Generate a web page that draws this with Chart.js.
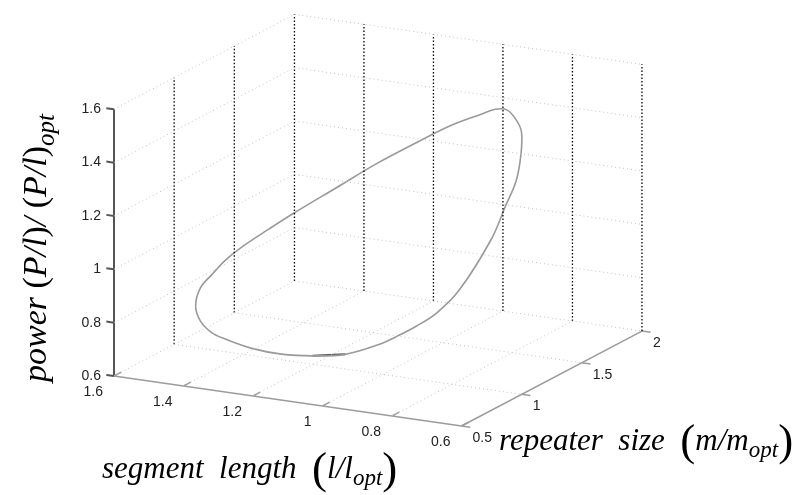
<!DOCTYPE html>
<html>
<head>
<meta charset="utf-8">
<script src="https://cdn.jsdelivr.net/npm/chart.js@4.4.0/dist/chart.umd.min.js"></script>
<style>
  html, body { margin: 0; padding: 0; background: #fff; }
  canvas { display: block; }
</style>
</head>
<body>
<canvas id="chart" width="798" height="495"></canvas>
<script>
// tick values of the three axes
const lTicks = [1.6, 1.4, 1.2, 1, 0.8, 0.6];
const mTicks = [0.5, 1, 1.5, 2];
const pTicks = [0.6, 0.8, 1, 1.2, 1.4, 1.6];

// the loop (l/lopt, m/mopt, (P/l)/(P/l)opt)
const segLength = [1.283, 1.188, 1.093, 0.997, 0.901, 0.853, 0.804, 0.755, 0.706, 0.676, 0.655, 0.646, 0.652, 0.698, 0.745, 0.793, 0.840, 0.888, 0.984, 1.080, 1.176, 1.272, 1.369, 1.417, 1.466, 1.515, 1.524, 1.517, 1.499, 1.471, 1.424, 1.377, 1.283];
const repSize = [1.433, 1.500, 1.543, 1.558, 1.539, 1.512, 1.470, 1.405, 1.305, 1.213, 1.113, 1.000, 0.898, 0.766, 0.712, 0.681, 0.661, 0.650, 0.642, 0.648, 0.667, 0.698, 0.747, 0.783, 0.833, 0.933, 1.000, 1.072, 1.137, 1.200, 1.278, 1.339, 1.433];
const power = [1.144, 1.238, 1.321, 1.401, 1.467, 1.500, 1.516, 1.502, 1.491, 1.432, 1.363, 1.299, 1.196, 1.029, 0.946, 0.895, 0.854, 0.817, 0.763, 0.738, 0.722, 0.718, 0.725, 0.730, 0.751, 0.777, 0.827, 0.859, 0.903, 0.945, 0.999, 1.050, 1.144];

// view of the 3d box: where the front corner lands, and the step of one unit along each axis
const view = { ox: 114, oy: 376, lx: -347.5, ly: -50, mx: 120.3, my: -63.3, pz: -266.7 };

const lMax = lTicks[0], lMin = lTicks[lTicks.length - 1];
const mMin = mTicks[0], mMax = mTicks[mTicks.length - 1];
const pMin = pTicks[0], pMax = pTicks[pTicks.length - 1];

function project(l, m, p) {
    return {
        x: view.ox + (l - lMax) * view.lx + (m - mMin) * view.mx,
        y: view.oy + (l - lMax) * view.ly + (m - mMin) * view.my + (p - pMin) * view.pz
    };
}

const lightGrid = { borderColor: '#c2c2c2', borderWidth: 1, borderDash: [1, 3] };
const darkGrid = { borderColor: '#000000', borderWidth: 1.3, borderDash: [1.5, 2] };
const axisLine = { borderColor: '#9c9c9c', borderWidth: 1.5 };
const zAxisLine = { borderColor: '#555555', borderWidth: 2 };

function segment(a, b, style) {
    return Object.assign({ data: [project(...a), project(...b)], showLine: true, pointRadius: 0 }, style);
}

const datasets = [];

// floor
lTicks.slice(0, -1).forEach(l => datasets.push(segment([l, mMin, pMin], [l, mMax, pMin], lightGrid)));
mTicks.slice(1).forEach(m => datasets.push(segment([lMax, m, pMin], [lMin, m, pMin], lightGrid)));
// left wall (l = 1.6) and back wall (m = 2)
pTicks.slice(1).forEach(p => {
    datasets.push(segment([lMax, mMin, p], [lMax, mMax, p], lightGrid));
    datasets.push(segment([lMax, mMax, p], [lMin, mMax, p], lightGrid));
});
mTicks.slice(1).forEach(m => datasets.push(segment([lMax, m, pMin], [lMax, m, pMax], darkGrid)));
lTicks.slice(1).forEach(l => datasets.push(segment([l, mMax, pMin], [l, mMax, pMax], darkGrid)));

// axes
datasets.push(segment([lMax, mMin, pMin], [lMin, mMin, pMin], axisLine));
datasets.push(segment([lMin, mMin, pMin], [lMin, mMax, pMin], axisLine));
datasets.push(segment([lMax, mMin, pMin], [lMax, mMin, pMax], zAxisLine));

// ticks
pTicks.forEach(p => datasets.push(segment([lMax, mMin, p], [lMax + 0.022, mMin, p], zAxisLine)));
lTicks.forEach(l => datasets.push(segment([l, mMin, pMin], [l, mMin + 0.06, pMin], axisLine)));
mTicks.forEach(m => datasets.push(segment([lMin, m, pMin], [lMin - 0.025, m, pMin], axisLine)));

// the curve
const curvePts = segLength.map((l, i) => project(l, repSize[i], power[i]));
datasets.push({
    data: curvePts,
    showLine: true,
    pointRadius: 0,
    borderColor: '#9a9a9a',
    borderWidth: 1.6,
    tension: 0.35
});
datasets.push({
    data: curvePts.slice(18, 20),
    showLine: true,
    pointRadius: 0,
    borderColor: '#555555',
    borderWidth: 2
});

function drawRuns(ctx, x, y, runs) {
    runs.forEach(r => {
        ctx.font = r.font;
        ctx.fillText(r.t, x, y + (r.dy || 0));
        x += ctx.measureText(r.t).width + (r.gap || 0);
    });
}

const serifIt = size => 'italic ' + size + 'px "Liberation Serif", "Times New Roman", serif';
const serif = size => size + 'px "Liberation Serif", "Times New Roman", serif';

const labels3d = {
    id: 'labels3d',
    afterDraw(chart) {
        const ctx = chart.ctx;
        const sx = chart.scales.x, sy = chart.scales.y;
        const toPx = pt => ({ x: sx.getPixelForValue(pt.x), y: sy.getPixelForValue(pt.y) });
        ctx.save();
        ctx.fillStyle = '#222';
        ctx.font = '14px "Liberation Sans", Arial, sans-serif';
        ctx.textBaseline = 'middle';

        ctx.textAlign = 'right';
        pTicks.forEach(p => {
            const q = toPx(project(lMax, mMin, p));
            ctx.fillText(String(p), q.x - 13, q.y);
        });
        lTicks.forEach(l => {
            const q = toPx(project(l, mMin, pMin));
            ctx.fillText(String(l), q.x - 11, q.y + 16);
        });
        ctx.textAlign = 'left';
        mTicks.forEach(m => {
            const q = toPx(project(lMin, m, pMin));
            ctx.fillText(String(m), q.x + 11, q.y + 12);
        });

        // axis titles
        ctx.fillStyle = '#000';
        ctx.textBaseline = 'alphabetic';
        drawRuns(ctx, 102, 478, [
            { t: 'segment  length  ', font: serifIt(31) },
            { t: '(', font: serif(45), dy: 5 },
            { t: 'l/l', font: serifIt(31) },
            { t: 'opt', font: serifIt(23), dy: 7 },
            { t: ')', font: serif(45), dy: 5 }
        ]);
        drawRuns(ctx, 499, 450, [
            { t: 'repeater  size  ', font: serifIt(31) },
            { t: '(', font: serif(45), dy: 5 },
            { t: 'm/m', font: serifIt(31) },
            { t: 'opt', font: serifIt(23), dy: 7 },
            { t: ')', font: serif(45), dy: 5 }
        ]);
        ctx.translate(46, 382);
        ctx.rotate(-Math.PI / 2);
        drawRuns(ctx, 0, 0, [
            { t: 'power ', font: serifIt(34) },
            { t: '(', font: serif(34) },
            { t: 'P/l', font: serifIt(34) },
            { t: ')', font: serif(34) },
            { t: '/ ', font: serifIt(34) },
            { t: '(', font: serif(34) },
            { t: 'P/l', font: serifIt(34) },
            { t: ')', font: serif(34) },
            { t: 'opt', font: serifIt(25), dy: 8 }
        ]);
        ctx.restore();
    }
};

new Chart(document.getElementById('chart'), {
    type: 'scatter',
    data: { datasets: datasets },
    options: {
        responsive: false,
        animation: false,
        devicePixelRatio: 1,
        layout: { padding: 0 },
        events: [],
        plugins: { legend: { display: false }, tooltip: { enabled: false } },
        scales: {
            x: { type: 'linear', min: 0, max: 798, display: false },
            y: { type: 'linear', min: 0, max: 495, reverse: true, display: false }
        }
    },
    plugins: [labels3d]
});
</script>
</body>
</html>
